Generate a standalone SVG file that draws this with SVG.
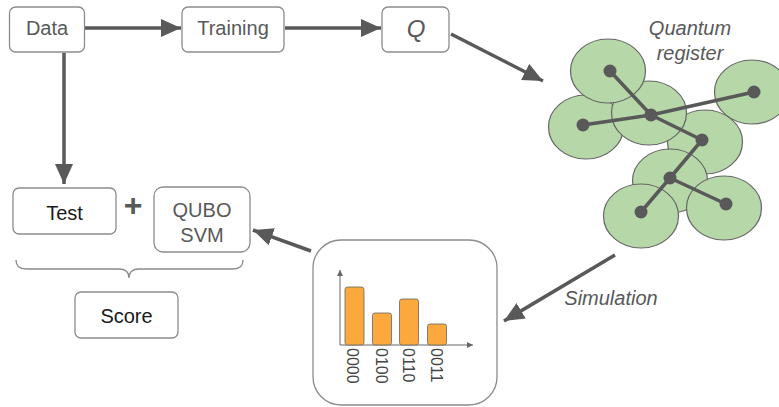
<svg xmlns="http://www.w3.org/2000/svg" width="779" height="407" viewBox="0 0 779 407">
<style>
.box{fill:#fff;stroke:#8c8c8c;stroke-width:1.3}
.t{font-family:"Liberation Sans",Arial,sans-serif;font-size:20px;fill:#595959;text-anchor:middle}
.tk{fill:#1a1a1a}
.it{font-style:italic}
.conn{stroke:#595959;stroke-width:3.5;fill:none}
.q{fill:#b6d7a8;stroke:#666;stroke-width:1.2}
.dot{fill:#595959}
.bond{stroke:#595959;stroke-width:3.5}
.bar{fill:#fba93c;stroke:#666;stroke-width:0.8}
.ax{stroke:#666;stroke-width:1}
.lbl{font-family:"Liberation Sans",Arial,sans-serif;font-size:16px;fill:#444}
</style>
<defs>
<marker id="ah" markerUnits="userSpaceOnUse" markerWidth="22" markerHeight="18" refX="20" refY="9" orient="auto">
<path d="M0,0 L20,9 L0,18 Z" fill="#595959"/>
</marker>
<marker id="sa" markerUnits="userSpaceOnUse" markerWidth="8" markerHeight="8" refX="6" refY="3" orient="auto">
<path d="M0,0 L6,3 L0,6 Z" fill="#666"/>
</marker>
</defs>

<g id="connectors">
<line class="conn" x1="85" y1="28" x2="181" y2="28" marker-end="url(#ah)"/>
<line class="conn" x1="285" y1="28" x2="381" y2="28" marker-end="url(#ah)"/>
<line class="conn" x1="64" y1="53" x2="64" y2="184" marker-end="url(#ah)"/>
<line class="conn" x1="451" y1="34" x2="543" y2="81" marker-end="url(#ah)"/>
<line class="conn" x1="615" y1="255" x2="504" y2="321" marker-end="url(#ah)"/>
<line class="conn" x1="311" y1="251" x2="253" y2="230" marker-end="url(#ah)"/>
</g>

<g id="data"><rect class="box" x="9.5" y="7" width="75" height="45" rx="6"/><text class="t" x="47" y="35">Data</text></g>
<g id="training"><rect class="box" x="182" y="7" width="102" height="45" rx="6"/><text class="t" x="233" y="35">Training</text></g>
<g id="q"><rect class="box" x="382" y="7" width="67" height="45" rx="6"/><text class="t it" x="416" y="37" style="font-size:24px">Q</text></g>
<g id="test"><rect class="box" x="13" y="188" width="103" height="46" rx="6"/><text class="t tk" x="64.5" y="220">Test</text></g>
<g id="plus"><text class="t" x="133" y="216" style="font-size:32px;font-weight:bold">+</text></g>
<g id="qubo-svm"><rect class="box" x="154" y="187" width="96" height="65" rx="9"/><text class="t" x="202" y="217">QUBO</text><text class="t" x="202" y="242">SVM</text></g>
<g id="brace"><path d="M16,260 Q16,269 26,269 L119,269 Q129,269 129,278 Q129,269 139,269 L233,269 Q243,269 243,260" fill="none" stroke="#8c8c8c" stroke-width="1.3"/></g>
<g id="score"><rect class="box" x="75" y="292" width="103" height="46" rx="6"/><text class="t tk" x="126.5" y="323">Score</text></g>

<g id="quantum-register">
<text class="t it" x="690" y="35">Quantum</text>
<text class="t it" x="690" y="60">register</text>
<ellipse class="q" cx="705" cy="142" rx="37.5" ry="32"/>
<ellipse class="q" cx="586" cy="127" rx="37.5" ry="32"/>
<ellipse class="q" cx="649" cy="113" rx="37.5" ry="32"/>
<ellipse class="q" cx="608" cy="71" rx="37.5" ry="32"/>
<ellipse class="q" cx="752" cy="92" rx="37.5" ry="32"/>
<ellipse class="q" cx="670" cy="181" rx="37.5" ry="32"/>
<ellipse class="q" cx="724" cy="208" rx="37.5" ry="32"/>
<ellipse class="q" cx="641" cy="216" rx="37.5" ry="32"/>
<line class="bond" x1="610" y1="71" x2="651" y2="115"/>
<line class="bond" x1="583" y1="125" x2="651" y2="115"/>
<line class="bond" x1="651" y1="115" x2="754" y2="92"/>
<line class="bond" x1="651" y1="115" x2="702" y2="140"/>
<line class="bond" x1="702" y1="140" x2="670" y2="178"/>
<line class="bond" x1="670" y1="178" x2="641" y2="212"/>
<line class="bond" x1="670" y1="178" x2="726" y2="204"/>
<circle class="dot" cx="610" cy="71" r="6.5"/>
<circle class="dot" cx="583" cy="125" r="6.5"/>
<circle class="dot" cx="651" cy="115" r="6.5"/>
<circle class="dot" cx="754" cy="92" r="6.5"/>
<circle class="dot" cx="702" cy="140" r="6.5"/>
<circle class="dot" cx="670" cy="178" r="6.5"/>
<circle class="dot" cx="641" cy="212" r="6.5"/>
<circle class="dot" cx="726" cy="204" r="6.5"/>
</g>

<g id="simulation-label"><text class="t it" x="611" y="305">Simulation</text></g>

<g id="histogram">
<rect class="box" x="313" y="240" width="184" height="165" rx="28"/>
<line class="ax" x1="340" y1="345" x2="340" y2="270" marker-end="url(#sa)"/>
<line class="ax" x1="340" y1="345" x2="473" y2="345" marker-end="url(#sa)"/>
<rect class="bar" x="345" y="287" width="19" height="58" rx="2.5"/>
<rect class="bar" x="372.5" y="313" width="19" height="32" rx="2.5"/>
<rect class="bar" x="399.5" y="299" width="19" height="46" rx="2.5"/>
<rect class="bar" x="427.5" y="324" width="19" height="21" rx="2.5"/>
<text class="lbl" transform="translate(347,348) rotate(90)">0000</text>
<text class="lbl" transform="translate(376,348) rotate(90)">0100</text>
<text class="lbl" transform="translate(403,348) rotate(90)">0110</text>
<text class="lbl" transform="translate(431,348) rotate(90)">0011</text>
</g>
</svg>
